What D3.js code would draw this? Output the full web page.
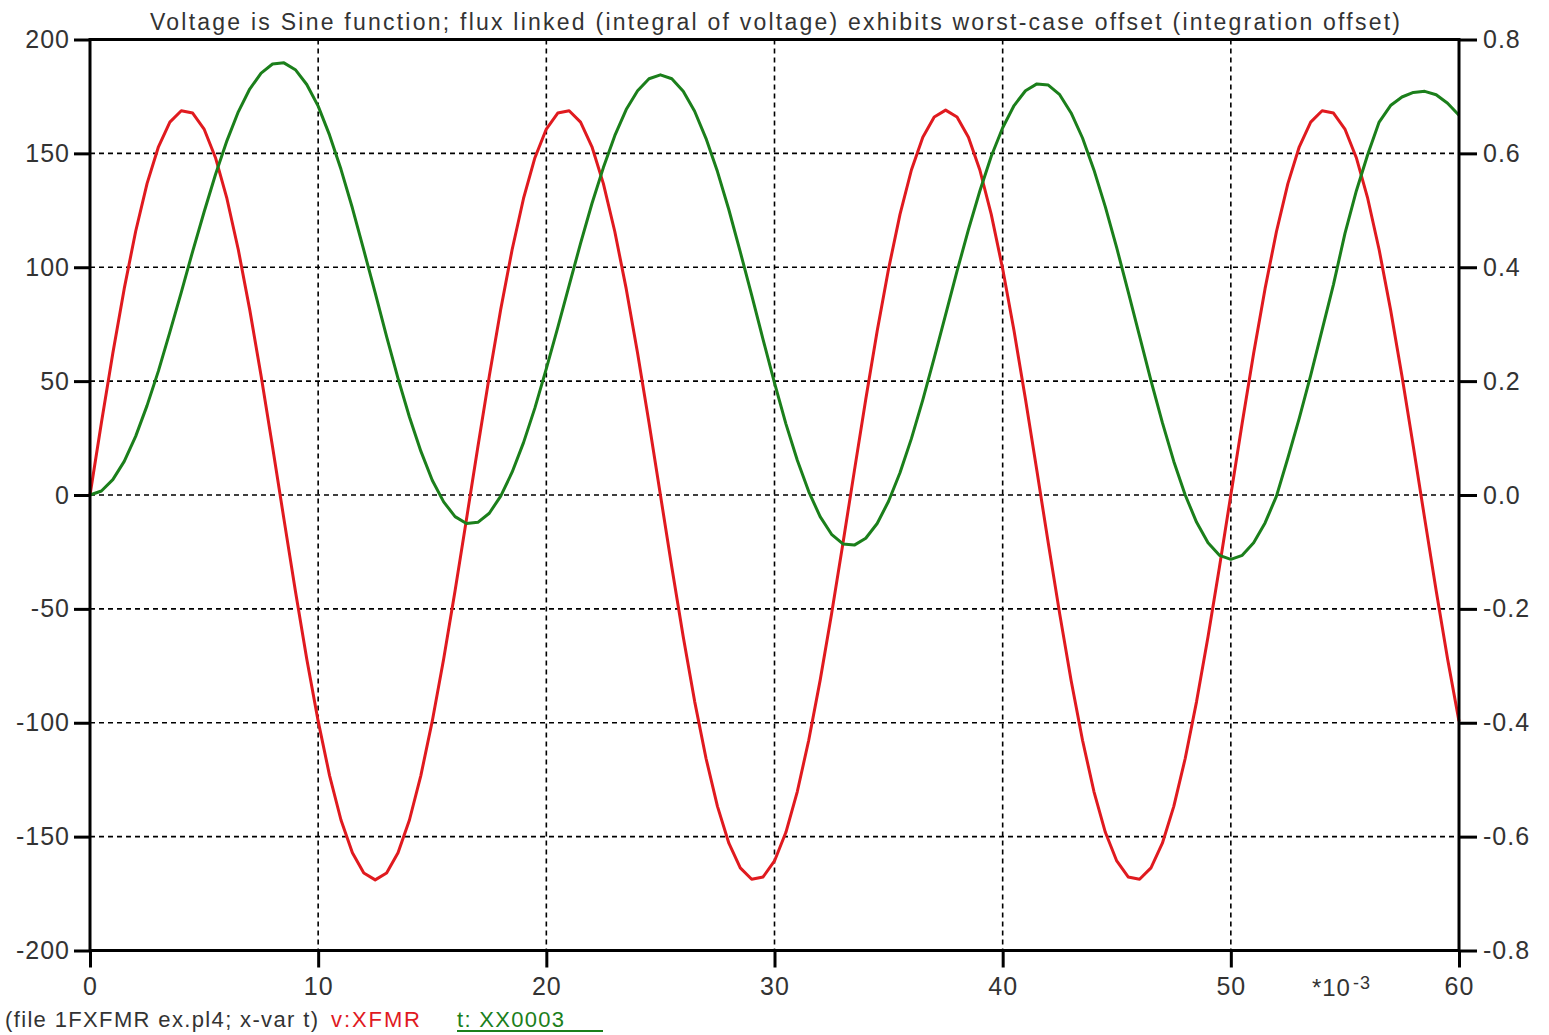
<!DOCTYPE html>
<html>
<head>
<meta charset="utf-8">
<script src="https://cdn.jsdelivr.net/npm/d3@7"></script>
<style>
  body { margin: 0; background: #fff; }
  text { font-family: "Liberation Sans", Arial, sans-serif; fill: #333; }
</style>
</head>
<body>
<div id="chart"></div>
<script>
// sample spacing of the traces, in ms
var timeStep = 0.5;

// v:XFMR (left axis)
var voltage = [
  0, 31.7, 62.2, 90.6, 115.7, 136.7, 152.9, 163.7, 168.7, 167.7,
  160.7, 148.1, 130.2, 107.7, 81.4, 52.2, 21.2, -10.6, -42.0, -72.0,
  -99.3, -123.2, -142.7, -157.1, -166.0, -169.0, -166.0, -157.1, -142.7, -123.2,
  -99.3, -72.0, -42.0, -10.6, 21.2, 52.2, 81.4, 107.7, 130.2, 148.1,
  160.7, 167.7, 168.7, 163.7, 152.9, 136.7, 115.7, 90.6, 62.2, 31.7,
  0, -31.7, -62.2, -90.6, -115.7, -136.7, -152.9, -163.7, -168.7, -167.7,
  -160.7, -148.1, -130.2, -107.7, -81.4, -52.2, -21.2, 10.6, 42.0, 72.0,
  99.3, 123.2, 142.7, 157.1, 166.0, 169.0, 166.0, 157.1, 142.7, 123.2,
  99.3, 72.0, 42.0, 10.6, -21.2, -52.2, -81.4, -107.7, -130.2, -148.1,
  -160.7, -167.7, -168.7, -163.7, -152.9, -136.7, -115.7, -90.6, -62.2, -31.7,
  0, 31.7, 62.2, 90.6, 115.7, 136.7, 152.9, 163.7, 168.7, 167.7,
  160.7, 148.1, 130.2, 107.7, 81.4, 52.2, 21.2, -10.6, -42.0, -72.0,
  -99.3
];

// t: XX0003 flux linked (right axis)
var flux = [
  0, 0.007, 0.027, 0.059, 0.103, 0.157, 0.218, 0.286, 0.356, 0.428,
  0.497, 0.563, 0.622, 0.673, 0.713, 0.741, 0.757, 0.759, 0.747, 0.721,
  0.683, 0.632, 0.572, 0.504, 0.430, 0.355, 0.278, 0.205, 0.137, 0.077,
  0.026, -0.012, -0.038, -0.050, -0.048, -0.032, -0.002, 0.040, 0.092, 0.153,
  0.222, 0.294, 0.368, 0.442, 0.512, 0.575, 0.631, 0.677, 0.710, 0.731,
  0.738, 0.731, 0.709, 0.674, 0.626, 0.568, 0.501, 0.427, 0.351, 0.273,
  0.197, 0.125, 0.061, 0.006, -0.038, -0.069, -0.086, -0.088, -0.076, -0.050,
  -0.011, 0.039, 0.099, 0.167, 0.241, 0.317, 0.393, 0.466, 0.534, 0.595,
  0.645, 0.684, 0.710, 0.722, 0.720, 0.703, 0.671, 0.627, 0.571, 0.506,
  0.434, 0.357, 0.279, 0.201, 0.127, 0.059, 0.000, -0.048, -0.084, -0.106,
  -0.113, -0.106, -0.084, -0.049, -0.002, 0.065, 0.135, 0.210, 0.290, 0.370,
  0.459, 0.534, 0.598, 0.655, 0.684, 0.699, 0.707, 0.709, 0.703, 0.688,
  0.667
];

var xTicks = [0, 10, 20, 30, 40, 50, 60];
var leftTicks = [-200, -150, -100, -50, 0, 50, 100, 150, 200];
var rightTicks = [-0.8, -0.6, -0.4, -0.2, 0, 0.2, 0.4, 0.6, 0.8];

var titleText = "Voltage is Sine function; flux linked (integral of voltage) exhibits worst-case offset (integration offset)";
var fileText = "(file 1FXFMR ex.pl4; x-var t)";
var seriesNames = ["v:XFMR", "t: XX0003"];

var svgWidth = 1549;
var svgHeight = 1035;
var margin = { top: 39.5, right: 90, bottom: 84.5, left: 90 };

var red = "#e01a1f";
var green = "#1b7f1b";

var times = voltage.map((d, i) => i * timeStep);

var svg = d3.select("#chart")
  .append("svg")
  .attr("width", svgWidth)
  .attr("height", svgHeight);

// scales
var x = d3.scaleLinear()
  .domain([0, 60])
  .range([margin.left, svgWidth - margin.right]);

var yLeft = d3.scaleLinear()
  .domain([-200, 200])
  .range([svgHeight - margin.bottom, margin.top]);

var yRight = d3.scaleLinear()
  .domain([-0.8, 0.8])
  .range([svgHeight - margin.bottom, margin.top]);

var x0 = x(0), x1 = x(60), yTop = yLeft(200), yBot = yLeft(-200);

// dashed grid
svg.append("g")
  .selectAll("line")
  .data(xTicks.filter(d => d > 0 && d < 60))
  .enter().append("line")
  .attr("x1", d => x(d)).attr("x2", d => x(d))
  .attr("y1", yTop).attr("y2", yBot)
  .attr("stroke", "#000").attr("stroke-width", 1.6)
  .attr("stroke-dasharray", "5,4");

svg.append("g")
  .selectAll("line")
  .data(leftTicks.filter(d => d > -200 && d < 200))
  .enter().append("line")
  .attr("x1", x0).attr("x2", x1)
  .attr("y1", d => yLeft(d)).attr("y2", d => yLeft(d))
  .attr("stroke", "#000").attr("stroke-width", 1.6)
  .attr("stroke-dasharray", "5,4");

// traces
var voltLine = d3.line()
  .x((d, i) => x(times[i]))
  .y(d => yLeft(d));

var fluxLine = d3.line()
  .x((d, i) => x(times[i]))
  .y(d => yRight(d));

svg.append("path")
  .datum(voltage)
  .attr("d", voltLine)
  .attr("fill", "none")
  .attr("stroke", red)
  .attr("stroke-width", 3)
  .attr("stroke-linejoin", "round");

svg.append("path")
  .datum(flux)
  .attr("d", fluxLine)
  .attr("fill", "none")
  .attr("stroke", green)
  .attr("stroke-width", 3)
  .attr("stroke-linejoin", "round");

// axes
var fmtRight = d => (d < 0 ? "-" : "") + Math.abs(d).toFixed(1);

var leftAxis = d3.axisLeft(yLeft).tickValues(leftTicks).tickSize(16).tickPadding(4)
  .tickFormat(d => String(d));
var rightAxis = d3.axisRight(yRight).tickValues(rightTicks).tickSize(18).tickPadding(6)
  .tickFormat(fmtRight);
var bottomAxis = d3.axisBottom(x).tickValues(xTicks).tickSize(17).tickPadding(10)
  .tickFormat(d => String(d));

function styleAxis(g) {
  g.select(".domain").remove();
  g.selectAll(".tick line").attr("stroke", "#000").attr("stroke-width", 3);
  g.selectAll(".tick text")
    .attr("fill", "#333")
    .style("font-family", '"Liberation Sans", Arial, sans-serif')
    .style("font-size", "25px")
    .style("letter-spacing", "1px");
}

svg.append("g")
  .attr("transform", `translate(${x0},0)`)
  .call(leftAxis)
  .call(styleAxis);

svg.append("g")
  .attr("transform", `translate(${x1},0)`)
  .call(rightAxis)
  .call(styleAxis);

svg.append("g")
  .attr("transform", `translate(0,${yBot})`)
  .call(bottomAxis)
  .call(styleAxis);

// frame
svg.append("rect")
  .attr("x", x0).attr("y", yTop)
  .attr("width", x1 - x0).attr("height", yBot - yTop)
  .attr("fill", "none")
  .attr("stroke", "#000")
  .attr("stroke-width", 3);

// x multiplier
var mult = svg.append("text")
  .attr("x", x(55) - 33)
  .attr("y", yBot + 45)
  .style("font-size", "24px")
  .style("letter-spacing", "1px");
mult.append("tspan").text("*10");
mult.append("tspan").attr("dy", -7).attr("dx", 2).style("font-size", "18px").text("-3");

// title
svg.append("text")
  .attr("x", 150)
  .attr("y", 30)
  .attr("textLength", 1250)
  .attr("lengthAdjust", "spacing")
  .style("font-size", "23px")
  .text(titleText);

// footer legend
svg.append("text")
  .attr("x", 5)
  .attr("y", 1027)
  .attr("textLength", 313)
  .attr("lengthAdjust", "spacing")
  .style("font-size", "22px")
  .text(fileText);

svg.append("text")
  .attr("x", 331)
  .attr("y", 1027)
  .attr("textLength", 89)
  .attr("lengthAdjust", "spacing")
  .style("font-size", "22px")
  .style("fill", red)
  .text(seriesNames[0]);

svg.append("text")
  .attr("x", 457)
  .attr("y", 1027)
  .attr("textLength", 107)
  .attr("lengthAdjust", "spacing")
  .style("font-size", "22px")
  .style("fill", green)
  .text(seriesNames[1]);

svg.append("line")
  .attr("x1", 457).attr("x2", 603)
  .attr("y1", 1031).attr("y2", 1031)
  .attr("stroke", green)
  .attr("stroke-width", 2);
</script>
</body>
</html>
